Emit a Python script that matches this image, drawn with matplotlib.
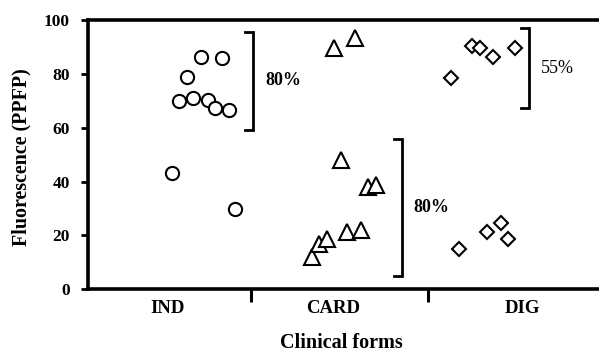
import numpy as np
import matplotlib.pyplot as plt

plt.rcParams['font.family'] = ['Liberation Serif', 'DejaVu Serif']

forms = ['IND', 'CARD', 'DIG']

# jittered positions inside each category (category k spans k..k+1)
ind_x = [0.555, 0.594, 0.639, 0.673, 0.718, 0.758, 0.797, 0.837, 0.876, 0.910]
ind_y = [43.0, 70.0, 78.7, 71.1, 86.4, 70.3, 67.2, 86.1, 66.5, 29.7]

card_x = [1.342, 1.383, 1.430, 1.468, 1.505, 1.543, 1.586, 1.618, 1.661, 1.704]
card_y = [11.8, 16.7, 18.8, 89.8, 48.0, 21.1, 93.2, 21.9, 37.8, 38.7]

dig_x = [2.127, 2.174, 2.247, 2.290, 2.328, 2.365, 2.408, 2.450, 2.487]
dig_y = [78.3, 14.9, 90.5, 89.5, 21.3, 86.4, 24.4, 18.6, 89.5]

# brackets: x position, low, high, label, label y, bold
brk_x = [1.011, 1.849, 2.568]
brk_lo = [59.1, 4.9, 67.2]
brk_hi = [95.5, 55.8, 96.9]
brk_txt = ['80%', '80%', '55%']
brk_ty = [77.7, 30.3, 82.0]
brk_bold = [True, True, False]

fig = plt.figure(figsize=(5.99, 3.53), dpi=100)
ax = fig.add_axes([0.147, 0.181, 0.853, 0.762])

mk = dict(linestyle='none', markerfacecolor='white', markeredgecolor='black', markeredgewidth=1.5)
ax.plot(ind_x, ind_y, marker='o', markersize=9.5, **mk)
ax.plot(card_x, card_y, marker='^', markersize=11, **mk)
ax.plot(dig_x, dig_y, marker='D', markersize=7.5, **mk)

cap = 0.045
for x, lo, hi, t, ty, b in zip(brk_x, brk_lo, brk_hi, brk_txt, brk_ty, brk_bold):
    ax.plot([x - cap, x, x, x - cap], [hi, hi, lo, lo], color='black', lw=2.0,
            solid_joinstyle='miter', clip_on=False)
    ax.text(x + 0.068, ty, t, fontsize=13, fontweight='bold' if b else 'normal',
            ha='left', va='center')

ax.set_xlim(0.0817, 2.961)
ax.set_ylim(0, 100)

ax.set_yticks([0, 20, 40, 60, 80, 100])
ax.set_yticklabels(['0', '20', '40', '60', '80', '100'], fontsize=12.5, fontweight='bold')
ax.tick_params(axis='y', direction='out', length=5, width=2, pad=8)

# category names between separators, separators as minor ticks
ax.set_xticks([0.527, 1.462, 2.527])
ax.set_xticklabels(forms, fontsize=13.5, fontweight='bold')
ax.tick_params(axis='x', which='major', length=0, pad=8)
ax.set_xticks([1, 2], minor=True)
ax.tick_params(axis='x', which='minor', direction='out', length=9, width=2.2)

for s in ['left', 'bottom', 'top']:
    ax.spines[s].set_linewidth(2.6)
ax.spines['right'].set_visible(False)

ax.set_ylabel('Fluorescence (PPFP)', fontsize=14.4, fontweight='bold')
ax.yaxis.set_label_coords(-0.11, 0.49)
ax.set_xlabel('Clinical forms', fontsize=14.5, fontweight='bold')
ax.xaxis.set_label_coords(0.495, -0.162)

fig.savefig('out.png', dpi=100)
